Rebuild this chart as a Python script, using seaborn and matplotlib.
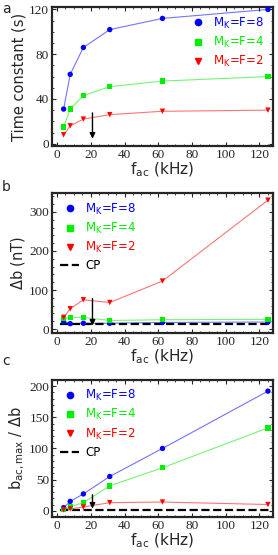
import numpy as np
import pandas as pd
import seaborn as sns
import matplotlib.pyplot as plt
from matplotlib.lines import Line2D

# data
f_ac = [3.9, 7.8, 15.6, 31.25, 62.5, 125]
labels = ['M$_\\mathrm{K}$=F=8', 'M$_\\mathrm{K}$=F=4', 'M$_\\mathrm{K}$=F=2']

tau_8 = [31, 62, 86, 102, 112, 120]
tau_4 = [15, 31, 43, 51, 56, 60]
tau_2 = [8, 16, 22, 26, 29, 30]

db_8 = [19, 14, 15, 15, 17, 18]
db_4 = [27, 30, 30, 22, 24, 25]
db_2 = [30, 52, 75, 68, 123, 330]
db_cp = 12

ratio_8 = [5, 15, 27, 55, 100, 192]
ratio_4 = [2, 6, 13, 40, 69, 133]
ratio_2 = [1.5, 3, 6, 13, 14, 10]
ratio_cp = 2

arrow_x = 21

sns.set_theme(style='ticks')
plt.rcParams['font.family'] = ['DejaVu Sans']
plt.rcParams['mathtext.fontset'] = 'dejavusans'

colors = ['#0000ff', '#00ee00', '#ff0000']
markers = ['o', 's', 'v']

fig = plt.figure(figsize=(2.78, 5.55), dpi=100)
ax_a = fig.add_axes([0.187, 0.737, 0.795, 0.250])
ax_b = fig.add_axes([0.187, 0.400, 0.795, 0.252])
ax_c = fig.add_axes([0.187, 0.0685, 0.795, 0.247])


def draw(ax, series, cp=None):
    handles = []
    for ys, c, m, lab in zip(series, colors, markers, labels):
        d = pd.DataFrame({'f': f_ac, 'y': ys})
        sns.lineplot(data=d, x='f', y='y', ax=ax, color=c, alpha=0.55, lw=0.8)
        sns.scatterplot(data=d, x='f', y='y', ax=ax, color=c, marker=m,
                        s=15, edgecolor='none', zorder=3)
        handles.append(Line2D([], [], color=c, marker=m, ls='none', ms=4.5, label=lab))
    if cp is not None:
        ax.hlines(cp, 2, 126, color='black', ls='--', lw=1.6)
        handles.append(Line2D([], [], color='black', ls='--', lw=1.6, label='CP'))
    return handles


def style(ax, ylabel):
    ax.set_xlim(-3, 128)
    ax.set_xticks([0, 20, 40, 60, 80, 100, 120])
    ax.set_xlabel('f$_\\mathrm{ac}$ (kHz)', fontsize=11, labelpad=0)
    ax.set_ylabel(ylabel, fontsize=10.5)
    ax.tick_params(direction='in', top=True, right=True, length=3, width=0.8,
                   labelsize=9, pad=2)
    ax.minorticks_on()
    ax.tick_params(which='minor', direction='in', top=True, right=True, length=1.5, width=0.6)
    for lab in ax.get_xticklabels() + ax.get_yticklabels():
        lab.set_family('Liberation Serif')
        lab.set_fontsize(9.5)
    for s in ax.spines.values():
        s.set_linewidth(1.6)
    ax.yaxis.set_label_coords(-0.115, 0.5)


def legend(ax, handles, loc):
    leg = ax.legend(handles=handles, loc=loc, frameon=False, fontsize=8.5,
                    handlelength=1.6, handletextpad=0.5, labelspacing=0.35,
                    borderaxespad=0.3)
    for t, h in zip(leg.get_texts(), handles):
        t.set_color(h.get_color())


# panel a
h = draw(ax_a, [tau_8, tau_4, tau_2])
ax_a.set_ylim(-2, 122)
ax_a.set_yticks([0, 40, 80, 120])
ax_a.annotate('', xy=(arrow_x, 2), xytext=(arrow_x, 30),
              arrowprops=dict(arrowstyle='-|>', color='black', lw=1, mutation_scale=8))
style(ax_a, 'Time constant (s)')
legend(ax_a, h, 'upper right')

# panel b
h = draw(ax_b, [db_8, db_4, db_2], cp=db_cp)
ax_b.set_ylim(-10, 348)
ax_b.set_yticks([0, 100, 200, 300])
ax_b.annotate('', xy=(arrow_x, 2), xytext=(arrow_x, 85),
              arrowprops=dict(arrowstyle='-|>', color='black', lw=1, mutation_scale=8))
style(ax_b, '$\\Delta$b (nT)')
legend(ax_b, h, 'upper left')

# panel c
h = draw(ax_c, [ratio_8, ratio_4, ratio_2], cp=ratio_cp)
ax_c.set_ylim(-10, 210)
ax_c.set_yticks([0, 50, 100, 150, 200])
ax_c.annotate('', xy=(arrow_x, -1), xytext=(arrow_x, 30),
              arrowprops=dict(arrowstyle='-|>', color='black', lw=1, mutation_scale=8))
style(ax_c, 'b$_\\mathrm{ac,max}$ / $\\Delta$b')
legend(ax_c, h, 'upper left')

for letter, y in [('a', 0.997), ('b', 0.675), ('c', 0.362)]:
    fig.text(0.008, y, letter, fontsize=10, va='top')

fig.savefig('out.png', dpi=100)
